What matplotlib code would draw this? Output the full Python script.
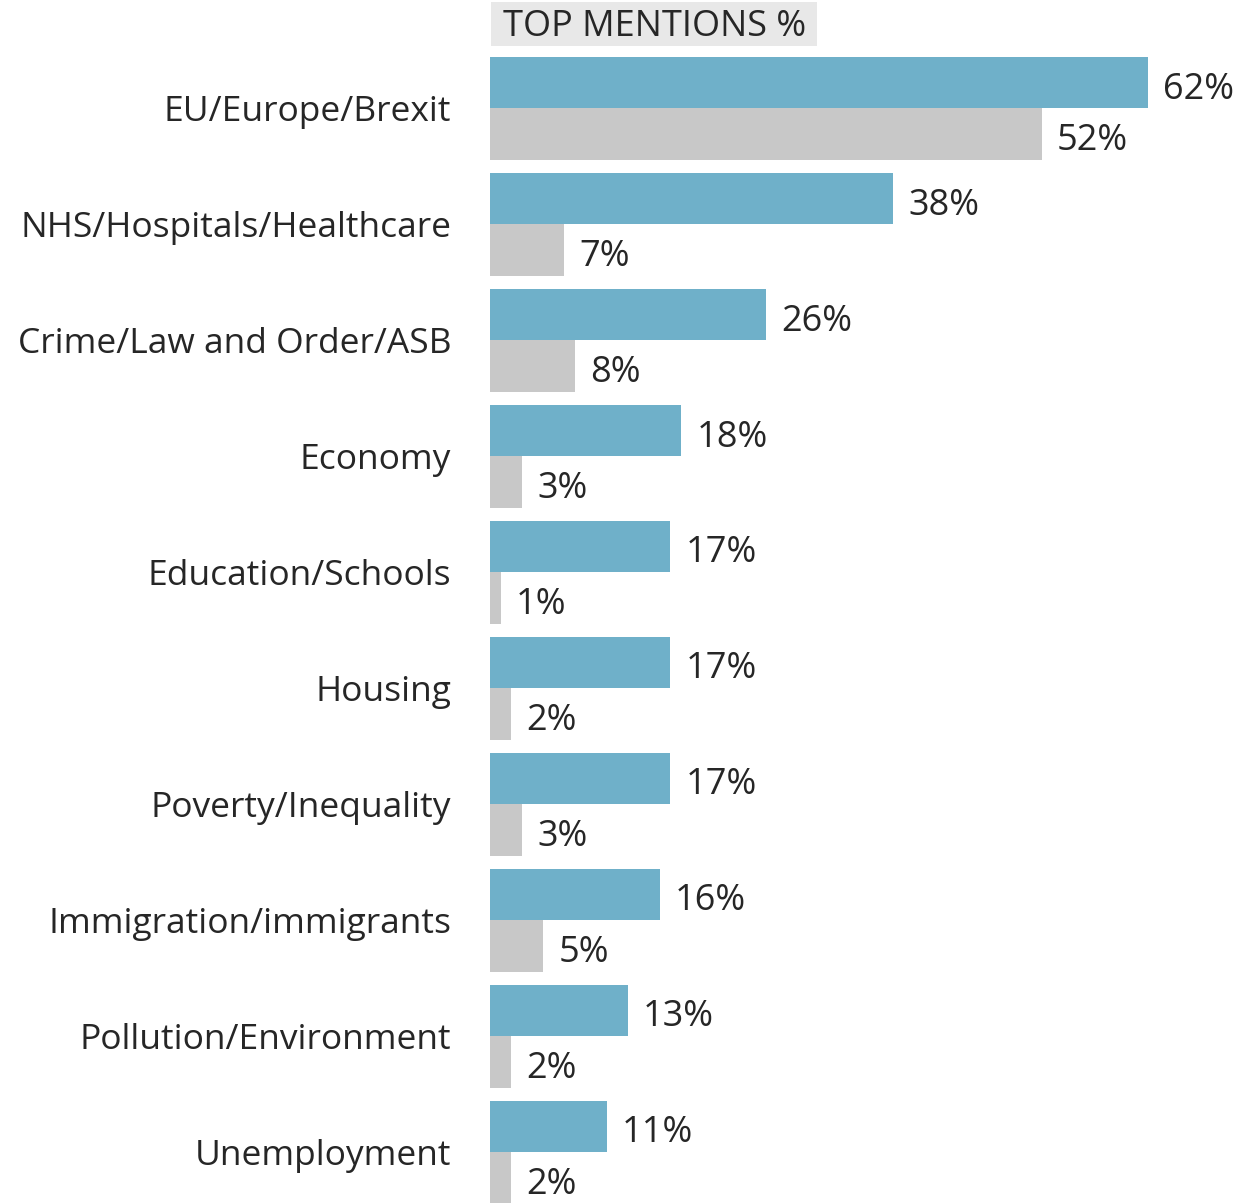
import matplotlib
matplotlib.use("Agg")
import matplotlib.pyplot as plt
from matplotlib.patches import Rectangle

categories = ["EU/Europe/Brexit", "NHS/Hospitals/Healthcare", "Crime/Law and Order/ASB",
              "Economy", "Education/Schools", "Housing", "Poverty/Inequality",
              "Immigration/immigrants", "Pollution/Environment", "Unemployment"]
top_mentions = [62, 38, 26, 18, 17, 17, 17, 16, 13, 11]
first_mentions = [52, 7, 8, 3, 1, 2, 3, 5, 2, 2]
title_text = "TOP MENTIONS %"

BLUE = "#6FB0C9"
GREY = "#C8C8C8"
TXT = "#262626"
plt.rcParams['font.family'] = ['Open Sans', 'DejaVu Sans']

W, H = 1246, 1203
fig = plt.figure(figsize=(W / 100, H / 100), dpi=100)
ax = fig.add_axes([490 / W, 0, (W - 490) / W, (H - 57) / H])
h = 51.5 / 116
pos = list(range(len(categories)))
ax.barh([p - h / 2 for p in pos], top_mentions, height=h, color=BLUE, align='center')
ax.barh([p + h / 2 for p in pos], first_mentions, height=h, color=GREY, align='center')
ax.set_xlim(0, (W - 490) / 10.61)
ax.set_ylim((H - 108) / 116, -h)
fs_val = 26
fs_lab = 25.5
for p, v in zip(pos, top_mentions):
    ax.annotate(f"{v}%", (v, p - h / 2), xytext=(11, -5), textcoords='offset points',
                va='center', ha='left', fontsize=fs_val, color=TXT)
for p, v in zip(pos, first_mentions):
    ax.annotate(f"{v}%", (v, p + h / 2), xytext=(11, -5), textcoords='offset points',
                va='center', ha='left', fontsize=fs_val, color=TXT)
ax.set_yticks(pos)
ax.set_yticklabels(categories, fontsize=fs_lab, color=TXT)
ax.tick_params(axis='y', length=0, pad=28)
ax.set_xticks([])
for s in ax.spines.values():
    s.set_visible(False)
fig.patches.append(Rectangle((491 / W, 1 - 46 / H), (817 - 491) / W, 44 / H,
                             transform=fig.transFigure, fc='#E8E8E8', ec='none', zorder=0))
fig.text(503 / W, 1 - 27 / H, title_text, fontsize=fs_val, color=TXT, va='center', ha='left')
fig.savefig("out.png", dpi=100)
